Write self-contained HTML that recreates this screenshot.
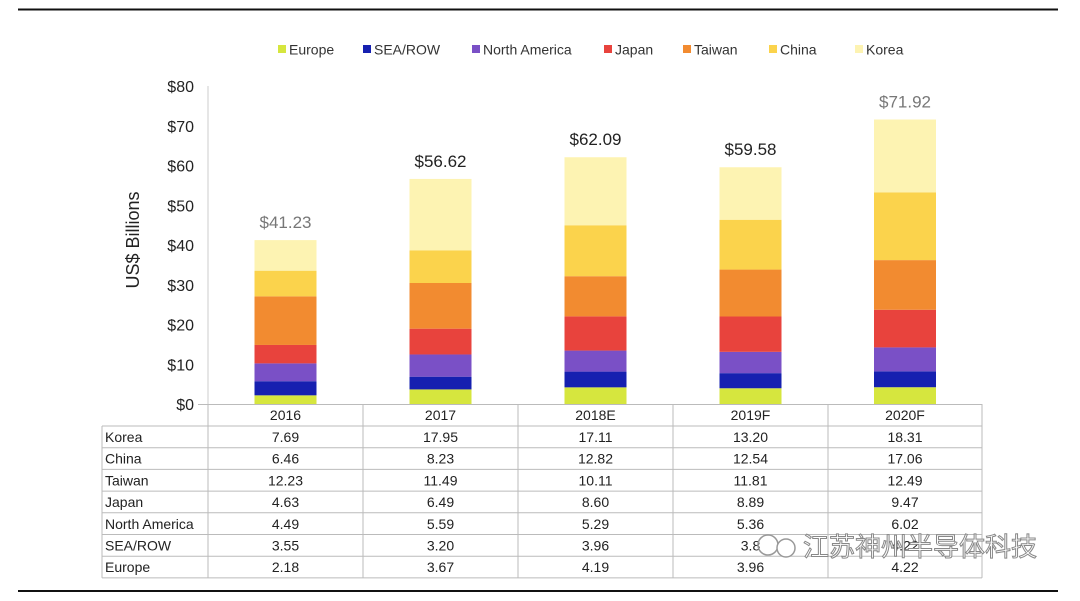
<!DOCTYPE html>
<html><head><meta charset="utf-8"><style>
body{margin:0;background:#fff;width:1080px;height:596px;overflow:hidden;font-family:"Liberation Sans",Arial,sans-serif}
</style></head><body>
<svg id="s" width="1080" height="596" xmlns="http://www.w3.org/2000/svg" font-family="Liberation Sans, Arial, sans-serif"></svg>
<script>
const s=document.getElementById('s');let h='';
h+='<line x1="18" y1="9.5" x2="1058" y2="9.5" stroke="#111" stroke-width="2"/>';
h+='<line x1="18" y1="591" x2="1058" y2="591" stroke="#111" stroke-width="2"/>';
const names=['Europe','SEA/ROW','North America','Japan','Taiwan','China','Korea'];
const cols=['#d6e63e','#1620b0','#7a50c6','#e8433d','#f28b30','#fbd34c','#fdf3b2'];
const lx=[278,363,472,604,683,769,855];
names.forEach((n,i)=>{h+=`<rect x="${lx[i]}" y="45" width="8" height="8" fill="${cols[i]}"/><text x="${lx[i]+11}" y="54.5" font-size="14" fill="#333">${n}</text>`});
const y0=404,k=318/80;
for(let v=0;v<=80;v+=10){const y=y0-v*k;h+=`<text x="194" y="${y+6}" font-size="16" text-anchor="end" fill="#222">$${v}</text>`;}
h+='<line x1="208" y1="86" x2="208" y2="404" stroke="#ccc"/>';
h+='<text transform="translate(139,240) rotate(-90)" font-size="18" text-anchor="middle" fill="#222">US$ Billions</text>';
const yrs=['2016','2017','2018E','2019F','2020F'];
const d=[[2.18,3.55,4.49,4.63,12.23,6.46,7.69],[3.67,3.20,5.59,6.49,11.49,8.23,17.95],[4.19,3.96,5.29,8.60,10.11,12.82,17.11],[3.96,3.8,5.36,8.89,11.81,12.54,13.20],[4.22,4.0,6.02,9.47,12.49,17.06,18.31]];
const tot=['$41.23','$56.62','$62.09','$59.58','$71.92'];const tc=['#777','#222','#222','#222','#777'];
const cx=[208,363,518,673,828,982];
d.forEach((r,j)=>{const c=(cx[j]+cx[j+1])/2;let acc=0;r.forEach((v,i)=>{const yt=y0-(acc+v)*k,yb=y0-acc*k;h+=`<rect x="${c-31}" y="${yt}" width="62" height="${yb-yt}" fill="${cols[i]}"/>`;acc+=v;});
h+=`<text x="${c}" y="${y0-acc*k-12}" font-size="17" text-anchor="middle" fill="${tc[j]}">${tot[j]}</text>`;});
// table
const rows=['Korea','China','Taiwan','Japan','North America','SEA/ROW','Europe'];
const vals=[['7.69','17.95','17.11','13.20','18.31'],['6.46','8.23','12.82','12.54','17.06'],['12.23','11.49','10.11','11.81','12.49'],['4.63','6.49','8.60','8.89','9.47'],['4.49','5.59','5.29','5.36','6.02'],['3.55','3.20','3.96','3.8','4.22'],['2.18','3.67','4.19','3.96','4.22']];
h+='<line x1="198" y1="404.5" x2="982" y2="404.5" stroke="#bbb"/>';
const rt=426,rh=21.7;
yrs.forEach((y,j)=>{h+=`<text x="${(cx[j]+cx[j+1])/2}" y="420" font-size="14" text-anchor="middle" fill="#222">${y}</text>`});
for(let i=0;i<=7;i++){const y=rt+i*rh;h+=`<line x1="102" y1="${y}" x2="982" y2="${y}" stroke="#bbb"/>`;}
h+=`<line x1="102" y1="${rt}" x2="102" y2="${rt+7*rh}" stroke="#bbb"/>`;
cx.forEach(x=>{h+=`<line x1="${x}" y1="404" x2="${x}" y2="${rt+7*rh}" stroke="#bbb"/>`});
rows.forEach((n,i)=>{const y=rt+i*rh+16;h+=`<text x="105" y="${y}" font-size="14" fill="#222">${n}</text>`;vals[i].forEach((v,j)=>{h+=`<text x="${(cx[j]+cx[j+1])/2}" y="${y}" font-size="14" text-anchor="middle" fill="#222">${v}</text>`});});
h+='<circle cx="768" cy="545" r="10" fill="none" stroke="#999" stroke-width="1.5"/><circle cx="786" cy="548" r="9" fill="#fff" stroke="#999" stroke-width="1.5"/>';
h+='<text x="803" y="556" font-size="26" fill="#fff" stroke="#888" stroke-width="1" font-family="Noto Sans CJK SC, sans-serif">江苏神州半导体科技</text>';
s.innerHTML=h;
</script>
</body></html>
